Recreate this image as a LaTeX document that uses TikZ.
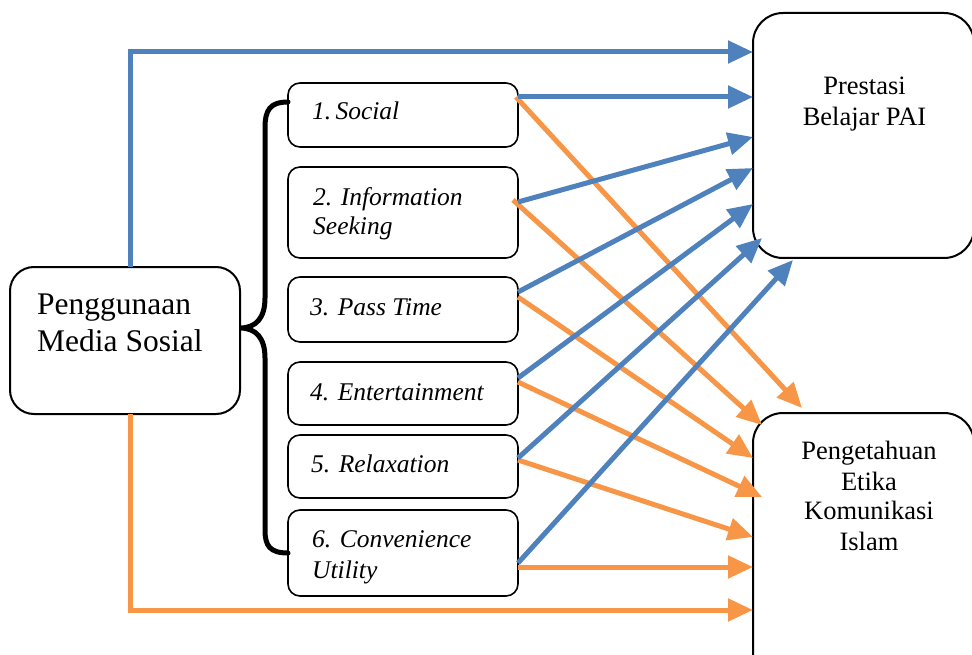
\documentclass[tikz,border=0pt]{standalone}
\usepackage{fontspec}
\setmainfont{Liberation Serif}
\usetikzlibrary{arrows.meta}
\definecolor{cblue}{HTML}{4F81BD}
\definecolor{corange}{HTML}{F79646}
\tikzset{
  midbox/.style={draw=black, line width=1.6pt, rounded corners=12pt, inner sep=0pt, outer sep=0pt,
    anchor=north west, minimum width=230pt},
  bigbox/.style={draw=black, line width=2pt, rounded corners=30pt, inner sep=0pt, outer sep=0pt,
    anchor=north west, minimum width=221pt},
  leftbox/.style={draw=black, line width=2pt, rounded corners=24pt, inner sep=0pt, outer sep=0pt,
    anchor=north west, minimum width=230pt, minimum height=147pt},
  midtext/.style={anchor=base west, inner sep=0pt, font=\fontsize{25.5}{30}\selectfont\itshape},
  righttext/.style={anchor=base, inner sep=0pt, font=\fontsize{26.5}{31}\selectfont},
  lefttext/.style={anchor=base west, inner sep=0pt, font=\fontsize{31.5}{37}\selectfont},
  barrow/.style={draw=cblue, line width=5pt, -{Triangle[length=25pt,width=22pt]}},
  oarrow/.style={draw=corange, line width=5pt, -{Triangle[length=25pt,width=22pt]}},
  bracestyle/.style={draw=black, line width=5pt, line cap=round}
}
\begin{document}
\begin{tikzpicture}[x=1pt,y=-1pt]
\useasboundingbox (0,0) rectangle (972,655);

% boxes
\node[leftbox] (L) at (10,267) {};
\node[midbox, minimum height=64pt] (b1) at (288,83) {};
\node[midbox, minimum height=91pt] (b2) at (288,167) {};
\node[midbox, minimum height=65pt] (b3) at (288,277) {};
\node[midbox, minimum height=63pt] (b4) at (288,362) {};
\node[midbox, minimum height=63pt] (b5) at (288,435) {};
\node[midbox, minimum height=86pt] (b6) at (288,510) {};
\node[bigbox, minimum height=245pt] (R1) at (753,13) {};
\node[bigbox, minimum height=280pt] (R2) at (753,413) {};

% texts
\node[lefttext] (tL1) at (37,314) {Penggunaan};
\node[lefttext] (tL2) at (37,351) {Media Sosial};
\node[midtext] (t1) at (312,120) {1.\,Social};
\node[midtext] (t2a) at (313,206) {2. Information};
\node[midtext] (t2b) at (313,235) {Seeking};
\node[midtext] (t3) at (310,315) {3. Pass Time};
\node[midtext] (t4) at (310,400) {4. Entertainment};
\node[midtext] (t5) at (311,472) {5. Relaxation};
\node[midtext] (t6a) at (312,547) {6. Convenience};
\node[midtext] (t6b) at (312,578) {Utility};
\node[righttext] (tR1a) at (864.5,95) {Prestasi};
\node[righttext] (tR1b) at (864.5,126) {Belajar PAI};
\node[righttext] (tR2a) at (869,459) {Pengetahuan};
\node[righttext] (tR2b) at (869,490) {Etika};
\node[righttext] (tR2c) at (869,519) {Komunikasi};
\node[righttext] (tR2d) at (869,550) {Islam};

% brace
\draw[bracestyle] ([yshift=13pt]b1.west) .. controls (270,102) and (265,110) .. (265,128)
  -- (265,298) .. controls (265,318) and (256,328) .. ([yshift=12.5pt]L.east)
  .. controls (256,328) and (265,338) .. (265,358)
  -- (265,530) .. controls (265,546) and (270,553) .. (b6.west);

% orange connectors
\draw[oarrow] ([xshift=5pt]L.south) |- ([yshift=-197pt]R2.north west);
\draw[oarrow] ([shift={(-2pt,18pt)}]b1.east) -- ([shift={(49pt,5pt)}]R2.north west);
\draw[oarrow] ([shift={(-5pt,12.5pt)}]b2.east) -- ([shift={(9pt,-12pt)}]R2.north west);
\draw[oarrow] ([yshift=12.5pt]b3.east) -- ([yshift=-45pt]R2.north west);
\draw[oarrow] ([yshift=11.5pt]b4.east) -- ([shift={(9pt,-84pt)}]R2.north west);
\draw[oarrow] ([yshift=6.5pt]b5.east) -- ([yshift=-124pt]R2.north west);
\draw[oarrow] ([yshift=-14pt]b6.east) -- ([yshift=-154pt]R2.north west);

% blue connectors
\draw[barrow] ([xshift=5pt]L.north) |- ([yshift=83.5pt]R1.west);
\draw[barrow] ([yshift=18pt]b1.east) -- ([yshift=38.5pt]R1.west);
\draw[barrow] ([yshift=10.5pt]b2.east) -- ([yshift=-1.5pt]R1.west);
\draw[barrow] ([yshift=17.5pt]b3.east) -- ([yshift=-32.5pt]R1.west);
\draw[barrow] ([yshift=15.5pt]b4.east) -- ([yshift=-68.5pt]R1.west);
\draw[barrow] ([yshift=8.5pt]b5.east) -- ([shift={(9pt,20pt)}]R1.south west);
\draw[barrow] ([yshift=-10pt]b6.east) -- ([shift={(40pt,-2pt)}]R1.south west);
\end{tikzpicture}
\end{document}
